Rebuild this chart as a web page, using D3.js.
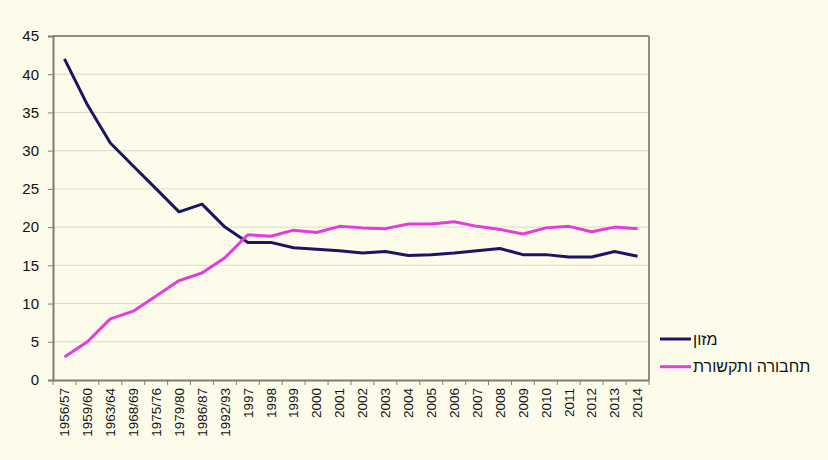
<!DOCTYPE html>
<html><head><meta charset="utf-8">
<script src="https://cdn.jsdelivr.net/npm/d3@7"></script>
<style>
html,body{margin:0;padding:0;background:#FDFBE9;}
svg{display:block;}
</style></head>
<body>
<svg id="chart" width="828" height="460"></svg>
<script>
const categories = ["1956/57","1959/60","1963/64","1968/69","1975/76","1979/80","1986/87","1992/93","1997","1998","1999","2000","2001","2002","2003","2004","2005","2006","2007","2008","2009","2010","2011","2012","2013","2014"];
const foodValues = [42,36,31,28,25,22,23,20,18.0,18.0,17.3,17.1,16.9,16.6,16.8,16.3,16.4,16.6,16.9,17.2,16.4,16.4,16.1,16.1,16.8,16.2];
const transportValues = [3,5,8,9,11,13,14,16,19.0,18.8,19.6,19.3,20.1,19.9,19.8,20.4,20.4,20.7,20.1,19.7,19.1,19.9,20.1,19.4,20.0,19.8];
const yTicks = [0,5,10,15,20,25,30,35,40,45];
const seriesNames = ["מזון","תחבורה ותקשורת"];
const seriesColors = ["#1C1464","#E23DDB"];

const svg = d3.select("#chart");
const pLeft = 53, pRight = 649, pTop = 36, pBottom = 380;
const font = "'Liberation Sans', Arial, sans-serif";

const x = d3.scaleBand().domain(categories).range([pLeft, pRight]).padding(0);
const y = d3.scaleLinear().domain([0,45]).range([pBottom, pTop]);

// gridlines
svg.append("g").selectAll("line").data(yTicks.filter(d=>d>0 && d<45)).join("line")
  .attr("x1", pLeft).attr("x2", pRight)
  .attr("y1", d=>y(d)).attr("y2", d=>y(d))
  .attr("stroke", "#DCDAC6").attr("stroke-width", 1);

// plot border top & right
svg.append("line").attr("x1", pLeft).attr("x2", pRight).attr("y1", pTop).attr("y2", pTop)
  .attr("stroke", "#8F8F80").attr("stroke-width", 2);
svg.append("line").attr("x1", pRight).attr("x2", pRight).attr("y1", pTop).attr("y2", pBottom)
  .attr("stroke", "#8F8F80").attr("stroke-width", 2);

// y axis
const yAxis = d3.axisLeft(y).tickValues(yTicks).tickSize(5).tickPadding(9);
const gy = svg.append("g").attr("transform", `translate(${pLeft},0)`).call(yAxis);
gy.select(".domain").attr("stroke", "#7F7F70").attr("stroke-width", 2);
gy.selectAll(".tick line").attr("stroke", "#7F7F70");
gy.selectAll(".tick text").attr("font-family", font).attr("font-size", 15).attr("fill", "#111");

// x axis: ticks at category boundaries
const xAxis = d3.axisBottom(x).tickSize(0).tickPadding(0);
const gx = svg.append("g").attr("transform", `translate(0,${pBottom})`).call(xAxis);
gx.select(".domain").attr("stroke", "#7F7F70").attr("stroke-width", 2);
gx.selectAll(".tick text")
  .attr("font-family", font).attr("font-size", 13.5).attr("fill", "#111")
  .attr("transform", "rotate(-90)")
  .attr("text-anchor", "end")
  .attr("x", -8).attr("y", 0).attr("dy", "0.35em");
svg.append("g").selectAll("line").data(categories.concat(["__end"])).join("line")
  .attr("x1", (d,i)=> pLeft + i*x.bandwidth()).attr("x2", (d,i)=> pLeft + i*x.bandwidth())
  .attr("y1", pBottom).attr("y2", pBottom+5)
  .attr("stroke", "#7F7F70").attr("stroke-width", 1);

// lines
const line = d3.line().x((d,i)=>x(categories[i]) + x.bandwidth()/2).y(d=>y(d));
[foodValues, transportValues].forEach((vals, k) => {
  svg.append("path").datum(vals).attr("d", line)
    .attr("fill", "none").attr("stroke", seriesColors[k]).attr("stroke-width", 3)
    .attr("stroke-linejoin", "round");
});

// legend
const legY = [339, 366.7];
seriesNames.forEach((name, k) => {
  svg.append("line").attr("x1", 660).attr("x2", 691).attr("y1", legY[k]).attr("y2", legY[k])
    .attr("stroke", seriesColors[k]).attr("stroke-width", 3);
  svg.append("text").attr("x", 693).attr("y", legY[k]).attr("dy", "0.35em")
    .attr("font-family", font).attr("font-size", 16).attr("fill", "#111")
    .text(name);
});
</script>
</body></html>
